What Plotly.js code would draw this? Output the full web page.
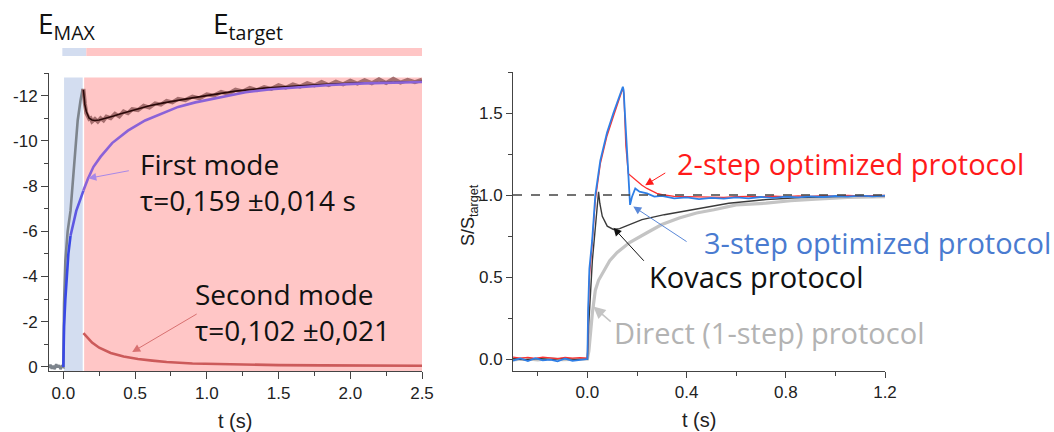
<!DOCTYPE html>
<html>
<head>
<meta charset="utf-8">
<script src="https://cdn.plot.ly/plotly-3.0.1.min.js"></script>
<style>html,body{margin:0;padding:0;background:#fff;}#chart{width:1054px;height:432px;}</style>
</head>
<body>
<div id="chart"></div>
<script>
// ---------- Left panel data ----------
const leftRiseT = [-0.1,-0.09,-0.08,-0.07,-0.06,-0.05,-0.04,-0.03,-0.02,-0.01,0,0.005,0.014,0.03,0.05,0.07,0.085,0.1,0.12,0.135];
const leftRiseV = [0.05,-0.1,0.08,-0.05,0.1,-0.12,0.02,-0.08,0.1,-0.03,0,-2.8,-4.7,-6.0,-6.9,-8.5,-9.9,-10.9,-11.8,-12.3];

const leftDataT = [0.14,0.145,0.15,0.16,0.17,0.18,0.19,0.2,
  0.22,0.24,0.26,0.28,0.3,
  0.33,0.36,0.39,0.42,0.45,0.48,
  0.52,0.56,0.6,0.64,0.68,0.72,0.76,0.8,
  0.85,0.9,0.95,1.0,
  1.05,1.1,1.15,1.2,1.25,1.3,1.35,1.4,1.45,1.5,1.55,1.6,1.65,1.7,1.75,1.8,1.85,1.9,1.95,2.0,2.05,2.1,2.15,2.2,2.25,2.3,2.35,2.4,2.45,2.5];
const leftDataV = [-12.3,-11.85,-11.65,-11.22,-11.12,-10.97,-11.0,-10.86,
  -10.97,-10.85,-11.0,-10.9,-11.07,
  -11.0,-11.2,-11.08,-11.3,-11.22,-11.4,
  -11.36,-11.55,-11.47,-11.66,-11.6,-11.77,-11.7,-11.86,
  -11.8,-11.96,-11.88,-12.06,
  -12.0,-12.17,-12.08,-12.26,-12.18,-12.34,-12.24,-12.38,-12.3,-12.46,-12.35,-12.5,-12.4,-12.55,-12.45,-12.6,-12.47,-12.62,-12.5,-12.66,-12.53,-12.68,-12.55,-12.72,-12.56,-12.74,-12.58,-12.7,-12.6,-12.7];

const fitT = [0.14,0.145,0.15,0.16,0.17,0.18,0.2,0.22,0.25,0.3,0.35,0.4,0.5,0.6,0.7,0.8,0.9,1.0,1.2,1.4,1.6,1.8,2.0,2.2,2.4,2.5];
const fitV = [-12.25,-11.9,-11.6,-11.3,-11.1,-11.0,-10.92,-10.9,-10.92,-11.0,-11.1,-11.2,-11.38,-11.55,-11.68,-11.8,-11.9,-12.0,-12.2,-12.33,-12.42,-12.49,-12.54,-12.58,-12.61,-12.62];

const firstModeT = [0,0.005,0.014,0.025,0.035,0.05,0.07,0.09,0.118,0.14,0.17,0.21,0.26,0.34,0.45,0.57,0.7,0.8,0.92,1.04,1.15,1.27,1.45,1.65,1.86,2.1,2.3,2.5];
const firstModeV = [0,-1.8,-3.0,-4.2,-5.0,-5.8,-6.4,-6.9,-7.4,-7.8,-8.3,-8.85,-9.3,-9.9,-10.45,-10.9,-11.25,-11.5,-11.7,-11.85,-12.02,-12.15,-12.28,-12.38,-12.47,-12.54,-12.58,-12.6];

const secondModeT = [0.14,0.16,0.2,0.25,0.33,0.42,0.52,0.62,0.72,0.9,1.1,1.3,1.5,1.8,2.1,2.5];
const secondModeV = [-1.5,-1.35,-1.08,-0.85,-0.62,-0.46,-0.35,-0.28,-0.22,-0.15,-0.12,-0.1,-0.08,-0.07,-0.06,-0.05];

const leftXTicks = [0,0.5,1.0,1.5,2.0,2.5];
const leftXTickText = ['0.0','0.5','1.0','1.5','2.0','2.5'];
const leftYTicks = [0,-2,-4,-6,-8,-10,-12];
const leftYTickText = ['0','-2','-4','-6','-8','-10','-12'];

// ---------- Right panel data ----------
const directT = [-0.3,-0.25,-0.2,-0.15,-0.1,-0.05,0,0.006,0.012,0.02,0.032,0.045,0.06,0.072,0.09,0.12,0.17,0.24,0.3,0.37,0.44,0.51,0.6,0.72,0.82,0.92,1.05,1.2];
const directV = [-0.005,0.002,-0.006,0.003,-0.004,0.0,0,0.05,0.16,0.28,0.42,0.48,0.52,0.55,0.6,0.65,0.71,0.77,0.82,0.86,0.89,0.91,0.94,0.95,0.965,0.975,0.985,0.99];

const kovacsT = [-0.3,-0.25,-0.2,-0.15,-0.1,-0.05,0,0.005,0.02,0.035,0.045,0.05,0.06,0.08,0.105,0.13,0.17,0.22,0.31,0.44,0.57,0.72,0.86,1.0,1.2];
const kovacsV = [0.002,-0.004,0.003,-0.003,0.004,-0.002,0,0.2,0.6,0.88,1.02,0.95,0.87,0.81,0.79,0.795,0.82,0.85,0.88,0.915,0.95,0.972,0.985,0.99,0.995];

const twoStepT = [-0.3,-0.27,-0.24,-0.21,-0.18,-0.15,-0.12,-0.09,-0.06,-0.03,0,0.003,0.008,0.019,0.032,0.052,0.079,0.105,0.133,0.143,0.147,0.155,0.165,0.18,0.2,0.22,0.24,0.26,0.28,0.31,0.35,0.4,0.45,0.5,0.55,0.6,0.65,0.7,0.75,0.8,0.85,0.9,0.95,1.0,1.05,1.1,1.15,1.2];
const twoStepV = [0.012,0.006,0.01,0.004,0.011,0.008,0.003,0.01,0.006,0.009,0.005,0.25,0.5,0.7,0.97,1.19,1.36,1.48,1.6,1.65,1.62,1.3,1.13,1.11,1.085,1.06,1.04,1.025,1.01,1.0,0.992,0.99,0.988,0.99,0.986,0.99,0.992,0.988,0.993,0.99,0.995,0.992,0.996,0.993,0.997,0.995,0.998,0.997];

const threeStepT = [-0.3,-0.27,-0.24,-0.21,-0.18,-0.15,-0.12,-0.09,-0.06,-0.03,0,0.003,0.008,0.019,0.032,0.052,0.079,0.105,0.133,0.143,0.146,0.16,0.172,0.18,0.193,0.21,0.24,0.27,0.3,0.35,0.4,0.45,0.5,0.55,0.6,0.65,0.7,0.75,0.8,0.85,0.9,0.95,1.0,1.05,1.1,1.15,1.2];
const threeStepV = [-0.01,0.004,-0.012,0.005,-0.008,-0.004,-0.014,0.003,-0.011,-0.006,0,0.3,0.55,0.72,1.0,1.21,1.38,1.5,1.62,1.66,1.64,1.27,0.94,0.99,1.04,1.02,1.01,0.99,0.995,0.98,0.985,0.975,0.982,0.978,0.985,0.98,0.988,0.983,0.99,0.986,0.992,0.988,0.994,0.99,0.996,0.992,0.996];

const rightXTicks = [0,0.4,0.8,1.2];
const rightYTicks = [0,0.5,1.0,1.5];
const targetLevel = 1.0;

// ---------- Traces ----------
const i05 = firstModeT.indexOf(0.05), i14 = firstModeT.indexOf(0.14);
const traces = [
  {x:leftRiseT, y:leftRiseV, xaxis:'x', yaxis:'y', mode:'lines', line:{color:'#7d848c', width:2.6}},
  {x:leftDataT, y:leftDataV, xaxis:'x', yaxis:'y', mode:'lines', line:{color:'rgba(150,95,95,0.85)', width:4}},
  {x:fitT, y:fitV, xaxis:'x', yaxis:'y', mode:'lines', line:{color:'#2a0808', width:1.6}},
  {x:firstModeT.slice(0,i05+1), y:firstModeV.slice(0,i05+1), xaxis:'x', yaxis:'y', mode:'lines', line:{color:'#3848e6', width:2.6}},
  {x:firstModeT.slice(i05,i14+1), y:firstModeV.slice(i05,i14+1), xaxis:'x', yaxis:'y', mode:'lines', line:{color:'#5e58e2', width:2.6}},
  {x:firstModeT.slice(i14), y:firstModeV.slice(i14), xaxis:'x', yaxis:'y', mode:'lines', line:{color:'#8a62d8', width:2.6}},
  {x:secondModeT, y:secondModeV, xaxis:'x', yaxis:'y', mode:'lines', line:{color:'#cc5a5a', width:2.6}},

  {x:directT, y:directV, xaxis:'x2', yaxis:'y2', mode:'lines', line:{color:'#c4c4c4', width:3.2}},
  {x:kovacsT, y:kovacsV, xaxis:'x2', yaxis:'y2', mode:'lines', line:{color:'#3a3a3a', width:1.4}},
  {x:twoStepT, y:twoStepV, xaxis:'x2', yaxis:'y2', mode:'lines', line:{color:'#ff3030', width:1.3}},
  {x:threeStepT, y:threeStepV, xaxis:'x2', yaxis:'y2', mode:'lines', line:{color:'#2f7fe6', width:1.8}}
];

const W = 1054, H = 432;
const px = v => v / W, py = v => 1 - v / H;

const axisCommon = {
  showline:true, linecolor:'#444', linewidth:1, ticks:'outside', ticklen:7, tickcolor:'#444', tickwidth:1,
  showgrid:false, zeroline:false, fixedrange:true,
  tickfont:{family:'Liberation Sans, Arial, sans-serif', size:17, color:'#222'}
};

const layout = {
  width:W, height:H, margin:{l:0,r:0,t:0,b:0},
  paper_bgcolor:'#fff', plot_bgcolor:'rgba(0,0,0,0)', showlegend:false,
  xaxis: Object.assign({}, axisCommon, {domain:[px(49), px(422)], range:[-0.1,2.5], anchor:'y',
    tickmode:'array', tickvals:leftXTicks, ticktext:leftXTickText,
    minor:{tickmode:'linear', tick0:0, dtick:0.25, ticks:'outside', ticklen:4, tickcolor:'#444'}}),
  yaxis: Object.assign({}, axisCommon, {domain:[py(371), py(73)], range:[0.18,-13], anchor:'x',
    tickmode:'array', tickvals:leftYTicks, ticktext:leftYTickText,
    minor:{tickmode:'linear', tick0:0, dtick:1, ticks:'outside', ticklen:4, tickcolor:'#444'}}),
  xaxis2: Object.assign({}, axisCommon, {domain:[px(513), px(885)], range:[-0.3,1.2], anchor:'y2',
    tickmode:'array', tickvals:rightXTicks, ticktext:rightXTicks.map(v=>v.toFixed(1)), ticklen:6,
    minor:{tickmode:'linear', tick0:0, dtick:0.2, ticks:'outside', ticklen:4, tickcolor:'#444'}}),
  yaxis2: Object.assign({}, axisCommon, {domain:[py(371), py(72)], range:[-0.073,1.75], anchor:'x2',
    tickmode:'array', tickvals:rightYTicks, ticktext:rightYTicks.map(v=>v.toFixed(1)), ticklen:6,
    minor:{tickmode:'linear', tick0:0, dtick:0.25, ticks:'outside', ticklen:4, tickcolor:'#444'}}),
  shapes: [
    {type:'rect', xref:'x', yref:'y', x0:0.005, x1:0.135, y0:0.18, y1:-12.8, fillcolor:'#d3ddf0', line:{width:0}, layer:'below'},
    {type:'rect', xref:'x', yref:'y', x0:0.145, x1:2.5, y0:0.18, y1:-12.8, fillcolor:'#ffc6c6', line:{width:0}, layer:'below'},
    {type:'rect', xref:'x', yref:'paper', x0:-0.007, x1:0.16, y0:py(56), y1:py(48), fillcolor:'#d3ddf0', line:{width:0}},
    {type:'rect', xref:'x', yref:'paper', x0:0.16, x1:2.5, y0:py(56), y1:py(48), fillcolor:'#ffc6c6', line:{width:0}},
    {type:'line', xref:'x2', yref:'y2', x0:-0.3, x1:1.2, y0:targetLevel, y1:targetLevel, line:{color:'#444', width:1.5, dash:'dash'}, layer:'above'}
  ],
  annotations: []
};

const txtFont = (size, color) => ({family:'Open Sans, Noto Sans, sans-serif', size:size, color:color});
const addText = (xref, yref, x, y, text, size, color) => layout.annotations.push({
  xref:xref, yref:yref, x:x, y:y, text:text, showarrow:false, xanchor:'left', yanchor:'middle', align:'left', font:txtFont(size,color)});
const addArrow = (xr, yr, x, y, ax, ay, color, width) => layout.annotations.push({
  xref:xr, yref:yr, axref:xr, ayref:yr, x:x, y:y, ax:ax, ay:ay, text:'', showarrow:true,
  arrowhead:2, arrowsize:1.6, arrowwidth:width, arrowcolor:color});

// top labels
addText('paper','paper', px(36), py(25), 'E<sub>MAX</sub>', 28, '#111');
addText('paper','paper', px(211), py(25), 'E<sub>target</sub>', 28, '#111');

// left annotations (two lines each)
addText('x','y', 0.522, -8.2, 'First mode<br>τ=0,159 ±0,014 s', 28, '#111');
addText('x','y', 0.905, -2.42, 'Second mode<br>τ=0,102 ±0,021', 28, '#111');
addArrow('x','y', 0.174, -8.34, 0.467, -8.69, '#a888e8', 1);
addArrow('x','y', 0.48, -0.66, 0.94, -2.38, '#d87070', 1);

// right annotations
addText('x2','y2', 0.354, 1.19, '2-step optimized protocol', 29, '#ff1a1a');
addText('x2','y2', 0.462, 0.712, '3-step optimized protocol', 29, '#4a7bd0');
addText('x2','y2', 0.24, 0.504, 'Kovacs protocol', 29, '#111');
addText('x2','y2', 0.1, 0.163, 'Direct (1-step) protocol', 29, '#b3b3b3');
addArrow('x2','y2', 0.233, 1.06, 0.32, 1.14, '#ff1a1a', 1);
addArrow('x2','y2', 0.185, 0.93, 0.406, 0.71, '#5a88d8', 1);
addArrow('x2','y2', 0.105, 0.8, 0.233, 0.59, '#111', 1);
addArrow('x2','y2', 0.024, 0.32, 0.1, 0.22, '#c4c4c4', 1.5);

// axis titles
const axTitleFont = {family:'Liberation Sans, Arial, sans-serif', size:20, color:'#222'};
layout.annotations.push({xref:'paper', yref:'paper', x:px(235), y:py(421), text:'t (s)', showarrow:false, xanchor:'center', yanchor:'middle', font:axTitleFont});
layout.annotations.push({xref:'paper', yref:'paper', x:px(699), y:py(420), text:'t (s)', showarrow:false, xanchor:'center', yanchor:'middle', font:axTitleFont});
layout.annotations.push({xref:'paper', yref:'paper', x:px(470), y:py(215), text:'S/S<sub>target</sub>', showarrow:false, textangle:-90, xanchor:'center', yanchor:'middle', font:{family:'Liberation Sans, Arial, sans-serif', size:18, color:'#222'}});

Plotly.newPlot('chart', traces, layout, {staticPlot:true, displayModeBar:false});
</script>
</body>
</html>
